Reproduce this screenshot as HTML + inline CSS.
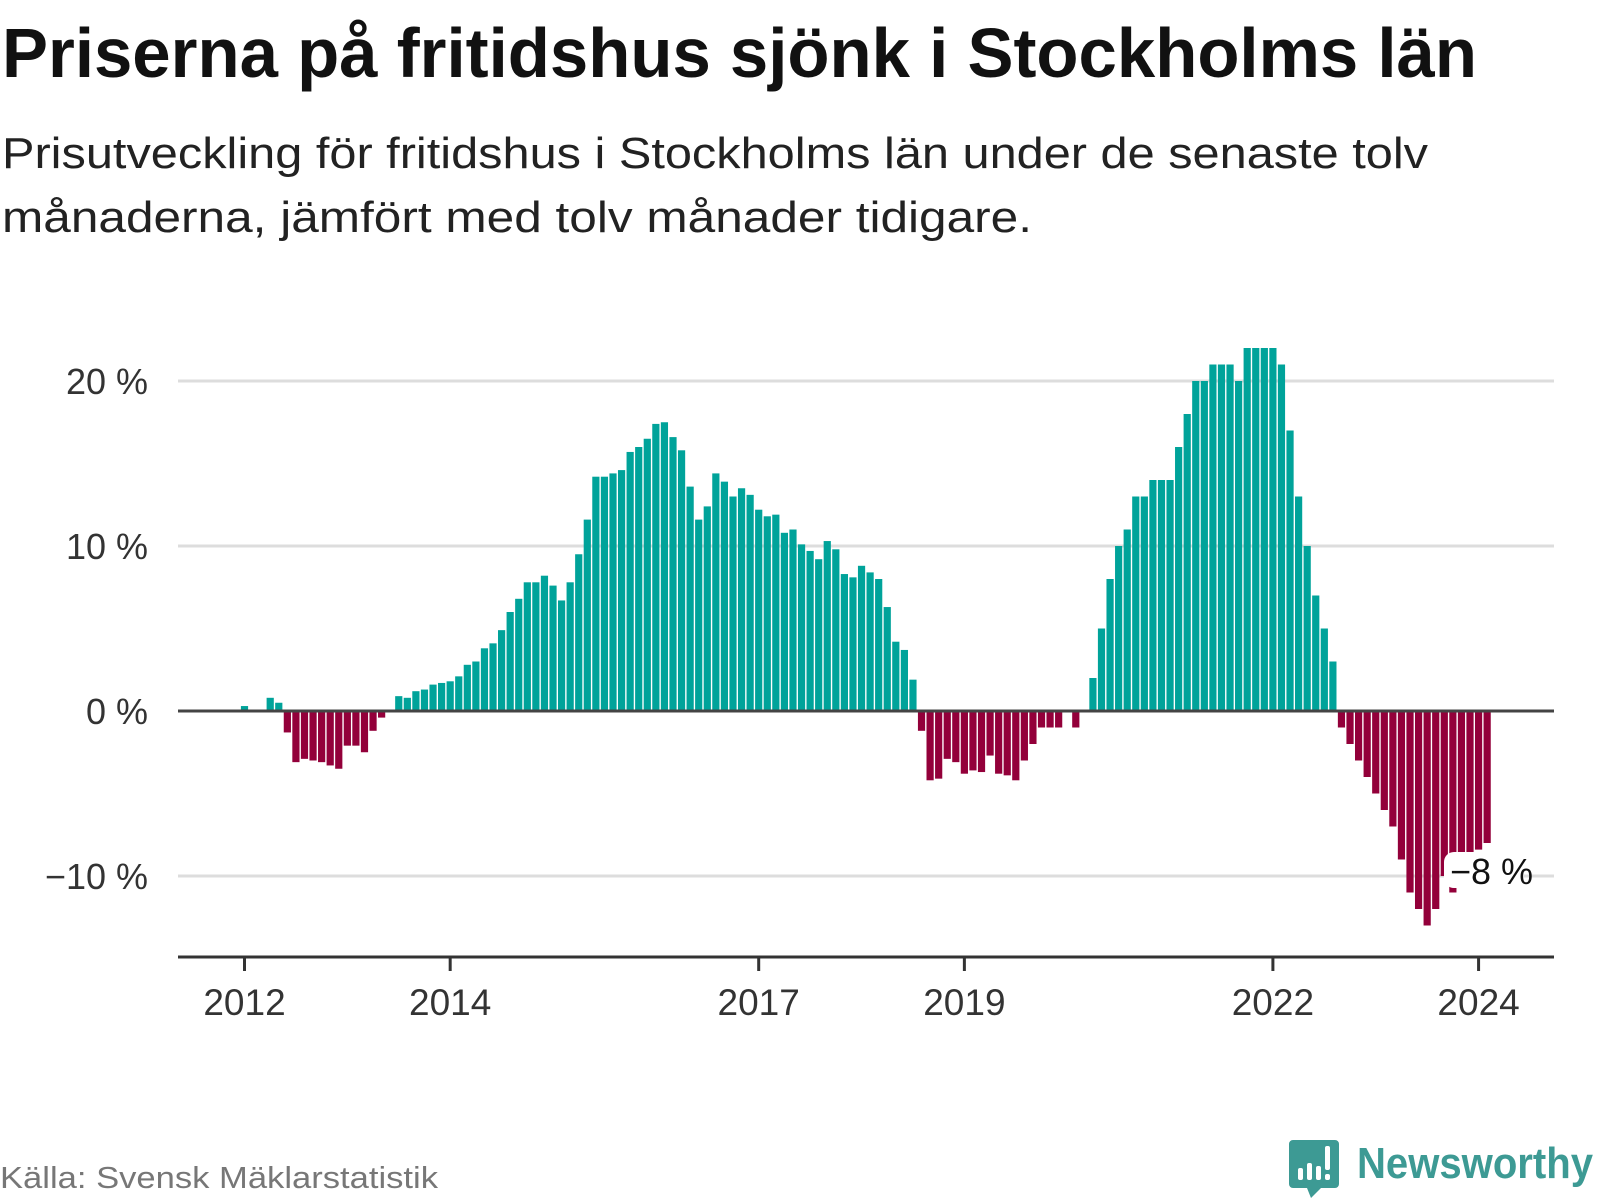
<!DOCTYPE html>
<html><head><meta charset="utf-8"><style>
html,body{margin:0;padding:0;background:#fff;}
svg{display:block;font-family:"Liberation Sans",sans-serif;}
</style></head><body>
<svg id="chart" width="1600" height="1200" viewBox="0 0 1600 1200" xmlns="http://www.w3.org/2000/svg">
<text x="2" y="77" font-size="70" font-weight="bold" fill="#111" textLength="1475" lengthAdjust="spacingAndGlyphs">Priserna på fritidshus sjönk i Stockholms län</text>
<text x="2" y="168" font-size="44" fill="#222" textLength="1426" lengthAdjust="spacingAndGlyphs">Prisutveckling för fritidshus i Stockholms län under de senaste tolv</text>
<text x="2" y="232" font-size="44" fill="#222" textLength="1030" lengthAdjust="spacingAndGlyphs">månaderna, jämfört med tolv månader tidigare.</text>
<g id="grid"></g>
<g id="bars"></g>
<g id="axes"></g>
<g>
<rect x="1444" y="852" width="80" height="36" rx="10" fill="#fff"/>
<text x="1450" y="884" font-size="36" fill="#111">−8 %</text>
</g>
<text x="0" y="1188" font-size="31" fill="#777" textLength="438" lengthAdjust="spacingAndGlyphs">Källa: Svensk Mäklarstatistik</text>
<g>
<path d="M1293 1140 h42 a4 4 0 0 1 4 4 v40 a4 4 0 0 1 -4 4 h-14 l-10 10 l-4 -10 h-14 a4 4 0 0 1 -4 -4 v-40 a4 4 0 0 1 4 -4z" fill="#3d9a94"/>
<rect x="1298" y="1168" width="5" height="12" rx="2" fill="#fff"/>
<rect x="1307" y="1163" width="5" height="17" rx="2" fill="#fff"/>
<rect x="1316" y="1166" width="5" height="14" rx="2" fill="#fff"/>
<rect x="1325" y="1146" width="5" height="24" rx="2" fill="#fff"/>
<rect x="1325" y="1174" width="5" height="6" rx="2" fill="#fff"/>
<text x="1357" y="1178" font-size="44" font-weight="bold" fill="#3d9a94" textLength="236" lengthAdjust="spacingAndGlyphs">Newsworthy</text>
</g>
</svg>
<script>
const values = [0.3,0,0,0.8,0.5,
-1.3,-3.1,-2.9,-3.0,-3.1,-3.3,-3.5,-2.1,-2.1,-2.5,-1.2,-0.4,
0,
0.9,0.8,1.2,1.3,1.6,1.7,1.8,2.1,2.8,3.0,3.8,4.1,4.9,6.0,6.8,7.8,7.8,8.2,7.6,6.7,7.8,9.5,
11.6,14.2,14.2,14.4,14.6,15.7,16.0,16.5,17.4,17.5,16.6,15.8,13.6,11.6,12.4,14.4,13.9,13.0,13.5,13.1,12.2,11.8,11.9,10.8,11.0,10.1,9.7,9.2,10.3,9.8,8.3,8.1,8.8,8.4,8.0,6.3,4.2,3.7,1.9,
-1.2,-4.2,-4.1,-2.9,-3.1,-3.8,-3.6,-3.7,-2.7,-3.8,-3.9,-4.2,-3.0,-2.0,-1.0,-1.0,-1.0,0,-1.0,
0,
2,5,8,10,11,13,13,14,14,14,16,18,20,20,21,21,21,20,22,22,22,22,21,17,13,10,7,5,3,
-1,-2,-3,-4,-5,-6,-7,-9,-11,-12,-13,-12,-10,-11,-9.5,-9,-8.4,-8];
const startYear = 2012;
const yTicks = [20,10,0,-10];
const yTickLabels = ["20 %","10 %","0 %","−10 %"];
const xTickYears = [2012,2014,2017,2019,2022,2024];

const NS="http://www.w3.org/2000/svg";
const step=8.57, x0=244.5;
function xScale(i){return x0+i*step;}
function yScale(v){return 711-v*16.5;}
function mk(tag,attrs,parent){const e=document.createElementNS(NS,tag);for(const k in attrs)e.setAttribute(k,attrs[k]);parent.appendChild(e);return e;}

const grid=document.getElementById('grid');
yTicks.forEach((t,k)=>{
  if(t!==0){
    const l=mk('line',{x1:178,x2:1554,y1:yScale(t),y2:yScale(t),stroke:'#ddd','stroke-width':3},grid);
    
    
  }
  const tx=mk('text',{x:148,y:yScale(t)+13,'font-size':36,fill:'#333','text-anchor':'end'},grid);
  tx.textContent=yTickLabels[k];
  
  
});

const bars=document.getElementById('bars');
values.forEach((v,i)=>{
  if(v===0)return;
  const y=Math.min(yScale(v),yScale(0)), h=Math.abs(yScale(v)-yScale(0));
  const r=mk('rect',{x:xScale(i)-3.6,y:y,width:7.2,height:h,fill:v>0?'#00a39a':'#93003a'},bars);
  
  
});

const axes=document.getElementById('axes');
const zl=mk('line',{x1:178,x2:1554,y1:yScale(0),y2:yScale(0),stroke:'#444','stroke-width':3},axes);


const xl=mk('line',{x1:178,x2:1554,y1:957,y2:957,stroke:'#333','stroke-width':3},axes);


xTickYears.forEach(yr=>{
  const x=xScale((yr-startYear)*12);
  const t=mk('line',{x1:x,x2:x,y1:957,y2:971,stroke:'#333','stroke-width':3},axes);
  
  
  const tx=mk('text',{x:x,y:1015,'font-size':37,fill:'#333','text-anchor':'middle'},axes);
  tx.textContent=yr;
  
  
});
</script>
</body></html>
